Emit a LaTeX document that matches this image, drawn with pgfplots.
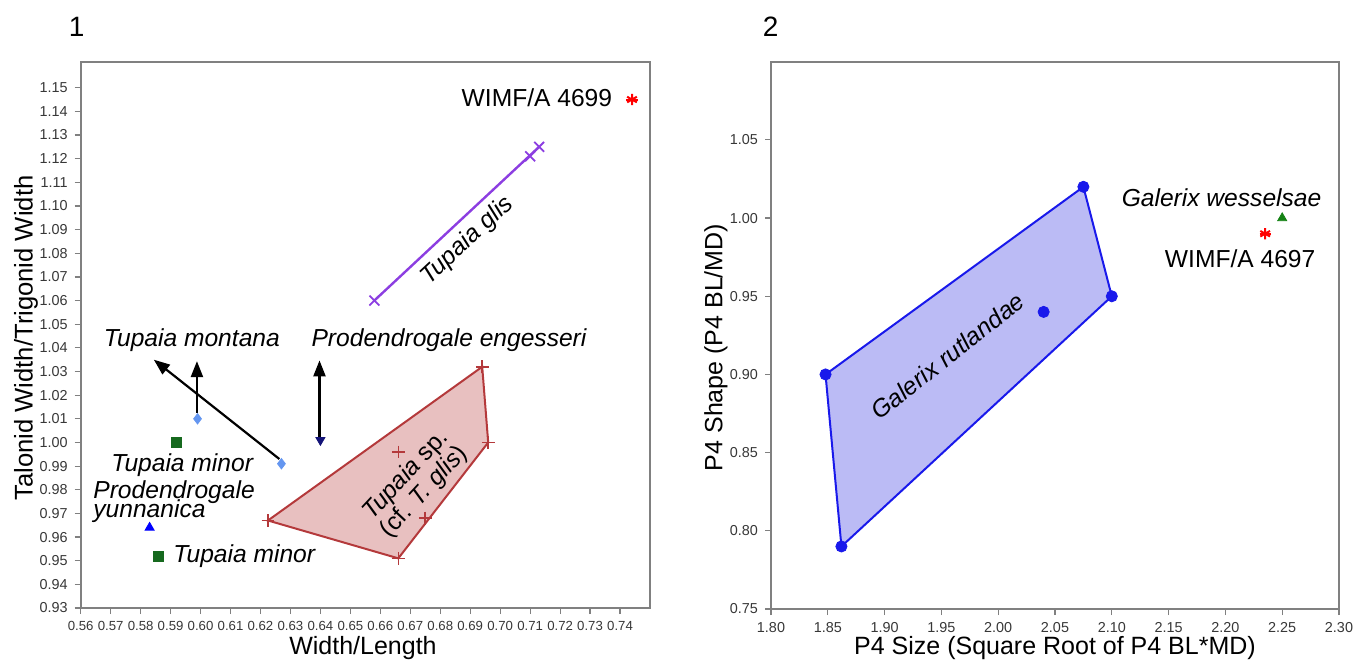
\documentclass[border=0pt]{standalone}
\usepackage{fontspec}
\setmainfont{Liberation Sans}
\usepackage{pgfplots}
\pgfplotsset{compat=1.18}
\usetikzlibrary{arrows.meta}
\definecolor{tsfill}{RGB}{232,192,192}
\definecolor{tsdraw}{RGB}{180,57,59}
\definecolor{glis}{RGB}{140,62,225}
\definecolor{ltblue}{RGB}{100,150,240}
\definecolor{dkgreen}{RGB}{22,105,30}
\definecolor{navyt}{RGB}{20,20,120}
\definecolor{grfill}{RGB}{187,187,245}
\definecolor{grdraw}{RGB}{25,25,235}
\definecolor{gwgreen}{RGB}{20,130,20}
\definecolor{framegray}{RGB}{128,128,128}
\definecolor{ticktext}{RGB}{55,55,55}
\pgfplotsset{
  common/.style={
    scale only axis, anchor=south west, clip=false,
    axis line style={framegray, line width=1pt},
    every tick/.style={framegray, line width=0.6pt},
    tick align=outside, major tick length=3pt,
    xtick pos=left, ytick pos=left,
    ticklabel style={font=\fontsize{7.2}{8}\selectfont, text=ticktext},
    /pgf/number format/assume math mode=true,
    /pgf/number format/fixed, /pgf/number format/fixed zerofill,
    /pgf/number format/precision=2,
  }
}
\begin{document}
\begin{tikzpicture}
\path[use as bounding box] (0,0) rectangle (683.5pt,333pt);
% ---------------- panel 1 ----------------
\begin{axis}[common,
  at={(40.35pt,29pt)}, width=284.65pt, height=273.15pt,
  xmin=0.56, xmax=0.75, ymin=0.93, ymax=1.161,
  xtick={0.56,0.57,0.58,0.59,0.60,0.61,0.62,0.63,0.64,0.65,0.66,0.67,0.68,0.69,0.70,0.71,0.72,0.73,0.74},
  ytick={0.93,0.94,0.95,0.96,0.97,0.98,0.99,1.00,1.01,1.02,1.03,1.04,1.05,1.06,1.07,1.08,1.09,1.10,1.11,1.12,1.13,1.14,1.15},
  xticklabel style={font=\fontsize{6.6}{8}\selectfont, inner xsep=0pt},
]
% Tupaia sp. (cf. T. glis) hull
\addplot[fill=tsfill, draw=tsdraw, line width=1pt] coordinates {
 (0.6225,0.967) (0.694,1.032) (0.696,1.000) (0.666,0.951)} -- cycle;
\addplot[only marks, mark=+, mark size=3.2pt, tsdraw, line width=0.8pt] coordinates {
 (0.6225,0.967) (0.694,1.032) (0.696,1.000) (0.666,0.951) (0.666,0.996) (0.675,0.968)};
% Tupaia glis
\addplot[glis, line width=1.2pt] coordinates {(0.658,1.060) (0.713,1.125)};
\addplot[only marks, mark=x, mark size=3.5pt, glis, line width=0.9pt] coordinates {
 (0.658,1.060) (0.710,1.121) (0.713,1.125)};
% WIMF/A 4699
\addplot[only marks, mark=asterisk, mark size=2.8pt, red, line width=1pt] coordinates {(0.744,1.145)};
\addplot[only marks, mark=+, mark size=2.8pt, red, line width=1pt] coordinates {(0.744,1.145)};
% Tupaia montana
\addplot[only marks, mark=diamond*, mark size=2.6pt, ltblue] coordinates {(0.599,1.010) (0.627,0.991)};
% Tupaia minor
\addplot[only marks, mark=square*, mark size=2.5pt, dkgreen] coordinates {(0.592,1.000) (0.586,0.952)};
% Prodendrogale yunnanica
\addplot[only marks, mark=triangle*, mark size=2.6pt, blue] coordinates {(0.583,0.964)};
% Prodendrogale engesseri
\addplot[only marks, mark=triangle*, mark size=2.6pt, navyt, mark options={rotate=180}] coordinates {(0.640,1.001)};
% arrows
\addplot[black, line width=1.1pt, -{Triangle[length=8pt,width=6pt]}] coordinates {(0.5988,1.0125) (0.5988,1.0344)};
\addplot[black, line width=1.1pt, -{Triangle[length=8pt,width=6pt]}] coordinates {(0.6263,0.993) (0.5844,1.035)};
\addplot[black, line width=1.1pt, -{Triangle[length=8pt,width=6pt]}] coordinates {(0.6397,1.0023) (0.6397,1.0347)};
% labels
\node[anchor=east, font=\fontsize{12.3}{14}\selectfont] at (axis cs:0.7397,1.1457) {WIMF/A 4699};
\node[rotate=43, font=\fontsize{12.3}{14}\selectfont] at (axis cs:0.6891,1.0852) {\textit{Tupaia glis}};
\node[font=\fontsize{12.3}{14}\selectfont] at (axis cs:0.5971,1.0433) {\textit{Tupaia montana}};
\node[anchor=west, font=\fontsize{12.3}{14}\selectfont] at (axis cs:0.6347,1.0431) {\textit{Prodendrogale engesseri}};
\node[font=\fontsize{12.3}{14}\selectfont] at (axis cs:0.594,0.9906) {\textit{Tupaia minor}};
\node[anchor=west, font=\fontsize{12.3}{14}\selectfont, inner sep=0pt] at (axis cs:0.5641,0.9789) {\textit{Prodendrogale}};
\node[anchor=west, font=\fontsize{12.3}{14}\selectfont, inner sep=0pt] at (axis cs:0.5641,0.9708) {\textit{yunnanica}};
\node[anchor=west, font=\fontsize{12.3}{14}\selectfont, inner sep=0pt] at (axis cs:0.5908,0.952) {\textit{Tupaia minor}};
\node[rotate=47, align=center, font=\fontsize{12.3}{12.5}\selectfont] at (axis cs:0.6716,0.9825) {\textit{Tupaia} sp.\\(cf. \textit{T. glis})};
\end{axis}
% ---------------- panel 2 ----------------
\begin{axis}[common,
  at={(385.5pt,28.5pt)}, width=284pt, height=273.65pt,
  xmin=1.80, xmax=2.30, ymin=0.75, ymax=1.10,
  xtick={1.80,1.85,1.90,1.95,2.00,2.05,2.10,2.15,2.20,2.25,2.30},
  ytick={0.75,0.80,0.85,0.90,0.95,1.00,1.05},
]
\addplot[fill=grfill, draw=grdraw, line width=1pt] coordinates {
 (1.848,0.900) (2.075,1.020) (2.100,0.950) (1.862,0.790)} -- cycle;
\addplot[only marks, mark=*, mark size=2.8pt, grdraw] coordinates {
 (1.848,0.900) (2.075,1.020) (2.100,0.950) (1.862,0.790) (2.040,0.940)};
\addplot[only marks, mark=triangle*, mark size=2.6pt, gwgreen] coordinates {(2.250,1.000)};
\addplot[only marks, mark=asterisk, mark size=2.8pt, red, line width=1pt] coordinates {(2.235,0.990)};
\addplot[only marks, mark=+, mark size=2.8pt, red, line width=1pt] coordinates {(2.235,0.990)};
\node[anchor=east, font=\fontsize{12.3}{14}\selectfont] at (axis cs:2.2907,1.0133) {\textit{Galerix wesselsae}};
\node[font=\fontsize{12.3}{14}\selectfont] at (axis cs:2.213,0.9742) {WIMF/A 4697};
\node[rotate=38.4, font=\fontsize{12.3}{14}\selectfont] at (axis cs:1.9556,0.9119) {\textit{Galerix rutlandae}};
\end{axis}
% axis titles and panel numbers
\node[rotate=90, font=\fontsize{12.8}{14}\selectfont] at (13pt,164pt) {Talonid Width/Trigonid Width};
\node[font=\fontsize{12.5}{14}\selectfont] at (181.5pt,9pt) {Width/Length};
\node[rotate=90, font=\fontsize{12.5}{14}\selectfont] at (358pt,159.25pt) {P4 Shape (P4 BL/MD)};
\node[font=\fontsize{12.5}{14}\selectfont] at (527.5pt,9pt) {P4 Size (Square Root of P4 BL*MD)};
\node[font=\fontsize{14}{16}\selectfont] at (38.35pt,319.65pt) {1};
\node[font=\fontsize{14}{16}\selectfont] at (385.35pt,319.5pt) {2};
\end{tikzpicture}
\end{document}
